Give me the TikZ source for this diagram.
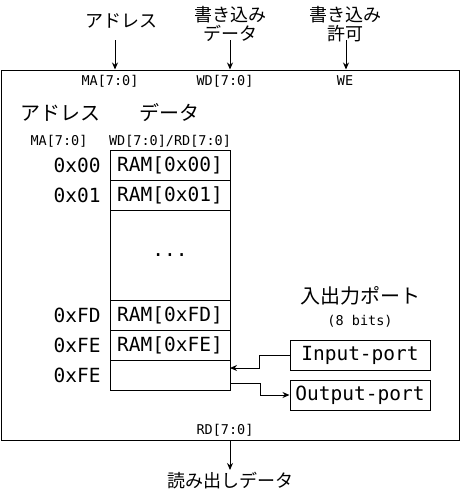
\documentclass[tikz,border=0pt]{standalone}
\usepackage{fontspec}
\setmonofont{DejaVu Sans Mono}
\newfontfamily\jp{Noto Sans CJK JP}
\usetikzlibrary{arrows.meta}
\begin{document}
\begin{tikzpicture}[x=1pt,y=-1pt,
  line width=1pt,
  arr/.style={-{Stealth[length=7pt,width=6pt]}},
  jpbig/.style={font=\jp\fontsize{18}{19}\selectfont, inner sep=0pt, align=center},
  jpin/.style={font=\jp\fontsize{20}{22}\selectfont, inner sep=0pt},
  small/.style={font=\ttfamily\fontsize{13.5}{14}\selectfont, inner sep=0pt},
  big/.style={font=\ttfamily\fontsize{19.5}{20}\selectfont, inner sep=0pt},
  cell/.style={draw, minimum width=120pt, minimum height=30pt, inner sep=0pt, font=\ttfamily\fontsize{19.5}{20}\selectfont},
  port/.style={draw, minimum width=140pt, minimum height=30pt, inner sep=0pt, font=\ttfamily\fontsize{19.5}{20}\selectfont},
  addr/.style={font=\ttfamily\fontsize{19.5}{20}\selectfont, inner sep=0pt, anchor=east}
]
\useasboundingbox (0,0) rectangle (461,493);

% outer box
\node[draw, minimum width=458pt, minimum height=370pt, inner sep=0pt] (chip) at (230,255) {};

% top labels
\node[jpbig] (lAddr) at (121,21) {アドレス};
\node[jpbig] (lWd) at (230,24) {書き込み\\データ};
\node[jpbig] (lWe) at (345,24) {書き込み\\許可};
\coordinate (maIn) at (115,40);
\coordinate (wdIn) at (230,40);
\coordinate (weIn) at (346,40);
\draw[arr] (maIn) -- (maIn |- chip.north);
\draw[arr] (wdIn) -- (wdIn |- chip.north);
\draw[arr] (weIn) -- (weIn |- chip.north);

\node[small] (pMA) at (110,81) {MA[7:0]};
\node[small] (pWD) at (225,81) {WD[7:0]};
\node[small] (pWE) at (345,81) {WE};

% headings
\node[jpin] (hAddr) at (60,113) {アドレス};
\node[jpin] (hData) at (169,113) {データ};
\node[small] (hMA) at (59,141) {MA[7:0]};
\node[small] (hWDRD) at (170,141) {WD[7:0]/RD[7:0]};

% memory cells
\node[cell] (c0) at (170,165) {RAM[0x00]};
\node[cell] (c1) at (170,195) {RAM[0x01]};
\node[cell, minimum height=90pt] (cdots) at (170,255) {...};
\node[cell] (cfd) at (170,315) {RAM[0xFD]};
\node[cell] (cfe) at (170,345) {RAM[0xFE]};
\node[cell] (cio) at (170,375) {};

% addresses
\node[addr] (a0) at (101,165) {0x00};
\node[addr] (a1) at (101,195) {0x01};
\node[addr] (afd) at (101,315) {0xFD};
\node[addr] (afe) at (101,345) {0xFE};
\node[addr] (aio) at (101,375) {0xFE};

% ports
\node[jpin] (hPort) at (360,296) {入出力ポート};
\node[small] (hBits) at (360,321) {(8 bits)};
\node[port] (inp) at (360,355) {Input-port};
\node[port] (outp) at (360,395) {Output-port};
\coordinate (inEnd) at (230,368);
\coordinate (outStart) at (230,383);
\draw[arr] (inp.west) -- ++(-30,0) |- (inEnd);
\draw[arr] (outStart) -- ++(30,0) |- (outp.west);

% bottom
\node[small] (pRD) at (225,430) {RD[7:0]};
\coordinate (rdOut) at (230,470);
\draw[arr] (chip.south) -- (rdOut);
\node[jpbig] (lRd) at (230,481) {読み出しデータ};
\end{tikzpicture}
\end{document}
